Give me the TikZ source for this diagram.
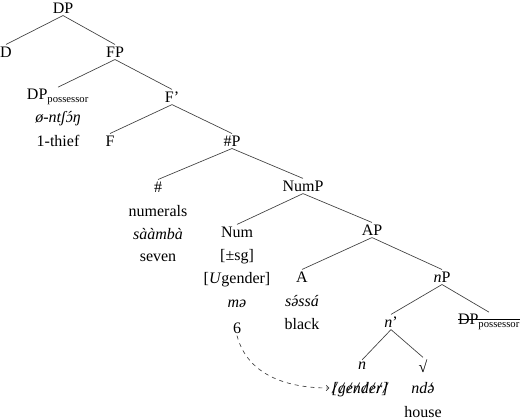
\documentclass[tikz,border=0pt]{standalone}
\usepackage{fontspec}
\setmainfont{Liberation Serif}
\usepackage{tikz}
\usetikzlibrary{arrows.meta}
\newcommand{\strk}[1]{\setbox0\hbox{#1}\rlap{\rule[0.3em]{\wd0}{0.5pt}}\box0}
\newcommand{\xo}[1]{\ooalign{#1\cr\hidewidth/\hidewidth\cr}}
\newcommand{\acu}[1]{{\accent"B4 #1}}
\newcommand{\grv}[1]{{\accent"60 #1}}

\begin{document}
\begin{tikzpicture}[x=0.75pt, y=-0.75pt, font=\fontsize{12}{14}\selectfont,
    tn/.style={inner sep=1.5pt},
    br/.style={line width=0.5pt, draw=black!75}]
    \useasboundingbox (0,0) rectangle (527,419);
    % spine of the tree
    \node[tn] (dp) at (63,8) {DP};
    \node[tn] (d) at (6,52) {D};
    \node[tn] (fp) at (115,52) {FP};
    \node[tn] (spec) at (58,97) {DP\textsubscript{possessor}};
    \node[tn] (specf) at (58,119) {\textit{ø-ntʃ\acu{ɔ}ŋ}};
    \node[tn] (specg) at (58,141) {1-thief};
    \node[tn] (fbar) at (172,97) {F’};
    \node[tn] (f) at (110,141) {F};
    \node[tn] (hp) at (232,141) {\#P};
    \node[tn] (hash) at (158,187) {\#};
    \node[tn] (hashw) at (158,211) {numerals};
    \node[tn] (hashf) at (158,234) {\textit{sààmbà}};
    \node[tn] (hashg) at (158,258) {seven};
    \node[tn] (nump) at (303,186) {NumP};
    \node[tn] (num) at (237,232) {Num};
    \node[tn] (numsg) at (237,257) {[±sg]};
    \node[tn] (numug) at (237,280) {[\textit{U}gender]};
    \node[tn] (numf) at (237,304) {\textit{mə}};
    \node[tn] (six) at (237,328) {6};
    \node[tn] (ap) at (372,230) {AP};
    \node[tn] (a) at (302,277) {A};
    \node[tn] (af) at (302,301) {\textit{s\acu{ə}ssá}};
    \node[tn] (ag) at (302,324) {black};
    \node[tn] (np) at (442,277) {\textit{n}P};
    \node[tn] (nbar) at (391,322) {\textit{n}’};
    \node[tn] (copy) at (489,322) {\strk{DP\textsubscript{possessor}}};
    \node[tn] (n) at (362,366) {\textit{n}};
    \node[tn] (ngen) at (360,388) {\itshape\xo{[}\xo{g}\xo{e}\xo{n}\xo{d}\xo{e}\xo{r}\xo{]}};
    \node[tn] (root) at (423,366) {\textit{√}};
    \node[tn] (rootf) at (423,388) {\textit{nd\grv{ə}}};
    \node[tn] (rootg) at (423,412) {house};
    % branches
    \foreach \p/\c in {dp/d, dp/fp, fp/spec, fp/fbar, fbar/f, fbar/hp,
        hp/hash, hp/nump, nump/num, nump/ap, ap/a, ap/np,
        np/nbar, np/copy, nbar/n, nbar/root} {
        \draw[br] (\p.south) -- (\c.north);
    }
    % agreement
    \draw[br, dashed, -{Straight Barb[length=2pt]}] (six.south) to[out=-75, in=180] (ngen.west);
\end{tikzpicture}
\end{document}
